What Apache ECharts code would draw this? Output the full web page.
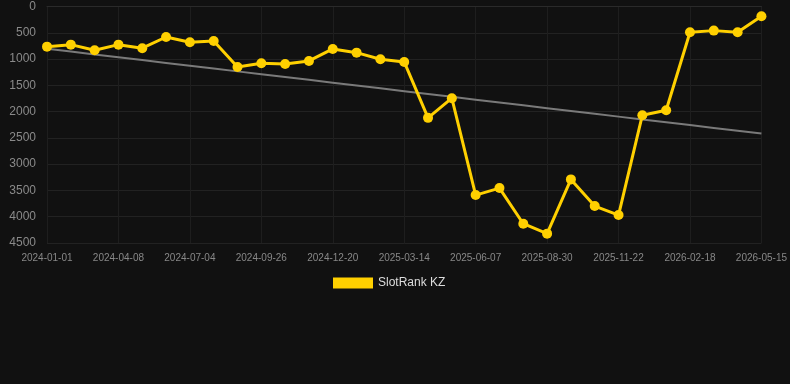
<!DOCTYPE html>
<html>
<head>
<meta charset="utf-8">
<script src="https://cdn.jsdelivr.net/npm/echarts@6/dist/echarts.min.js"></script>
<style>
  html, body { margin: 0; padding: 0; background: #111111; }
  #chart { width: 790px; height: 384px; }
</style>
</head>
<body>
<div id="chart"></div>
<script>
var dates = [
  '2024-01-01', '2024-02-03', '2024-03-06', '2024-04-08', '2024-05-07', '2024-06-05',
  '2024-07-04', '2024-08-01', '2024-08-29', '2024-09-26', '2024-10-24', '2024-11-22',
  '2024-12-20', '2025-01-17', '2025-02-14', '2025-03-14', '2025-04-11', '2025-05-10',
  '2025-06-07', '2025-07-05', '2025-08-02', '2025-08-30', '2025-09-27', '2025-10-25',
  '2025-11-22', '2025-12-21', '2026-01-19', '2026-02-18', '2026-03-16', '2026-04-15',
  '2026-05-15'
];
var rankValues = [
  764, 726, 832, 726, 794, 580, 680, 656, 1150, 1080,
  1093, 1036, 808, 878, 1004, 1055, 2119, 1745, 3588, 3455,
  4133, 4322, 3290, 3797, 3968, 2068, 1973, 491, 459, 491,
  187
];

// least squares trend over the category index
function trendLine(vals) {
  var n = vals.length, sx = 0, sy = 0, sxy = 0, sxx = 0;
  for (var i = 0; i < n; i++) {
    sx += i; sy += vals[i]; sxy += i * vals[i]; sxx += i * i;
  }
  var b = (n * sxy - sx * sy) / (n * sxx - sx * sx);
  var a = (sy - b * sx) / n;
  var out = [];
  for (var j = 0; j < n; j++) out.push(+(a + b * j).toFixed(1));
  return out;
}

var chart = echarts.init(document.getElementById('chart'));
var option = {
  backgroundColor: '#111111',
  animation: false,
  grid: { left: 47, right: 28, top: 6.5, bottom: 141 },
  legend: {
    data: ['SlotRank KZ'],
    top: 272,
    left: 328,
    itemWidth: 40,
    itemHeight: 11,
    itemGap: 6,
    icon: 'rect',
    textStyle: { color: '#dddddd', fontSize: 12, fontFamily: 'Liberation Sans, Arial, sans-serif' }
  },
  xAxis: {
    type: 'category',
    data: dates,
    boundaryGap: false,
    axisLine: { show: true, lineStyle: { color: '#2a2a2a' } },
    axisTick: { show: false },
    axisLabel: {
      interval: 2,
      color: '#888888',
      fontSize: 10,
      margin: 10,
      fontFamily: 'Liberation Sans, Arial, sans-serif'
    },
    splitLine: { show: true, interval: 2, lineStyle: { color: '#1e1e1e' } }
  },
  yAxis: {
    type: 'value',
    inverse: true,
    min: 0,
    max: 4500,
    interval: 500,
    axisLine: { show: false },
    axisTick: { show: false },
    axisLabel: {
      color: '#8a8a8a',
      fontSize: 12,
      margin: 11,
      fontFamily: 'Liberation Sans, Arial, sans-serif',
      formatter: function (v) { return String(v); }
    },
    splitLine: { lineStyle: { color: '#222222' } }
  },
  series: [
    {
      name: 'Trend',
      type: 'line',
      data: trendLine(rankValues),
      symbol: 'none',
      lineStyle: { color: '#7a7a7a', width: 2 },
      z: 1
    },
    {
      name: 'SlotRank KZ',
      type: 'line',
      data: rankValues,
      symbol: 'circle',
      symbolSize: 10,
      itemStyle: { color: '#FFD000' },
      lineStyle: { color: '#FFD000', width: 3 },
      z: 2
    }
  ]
};
chart.setOption(option);
</script>
</body>
</html>
